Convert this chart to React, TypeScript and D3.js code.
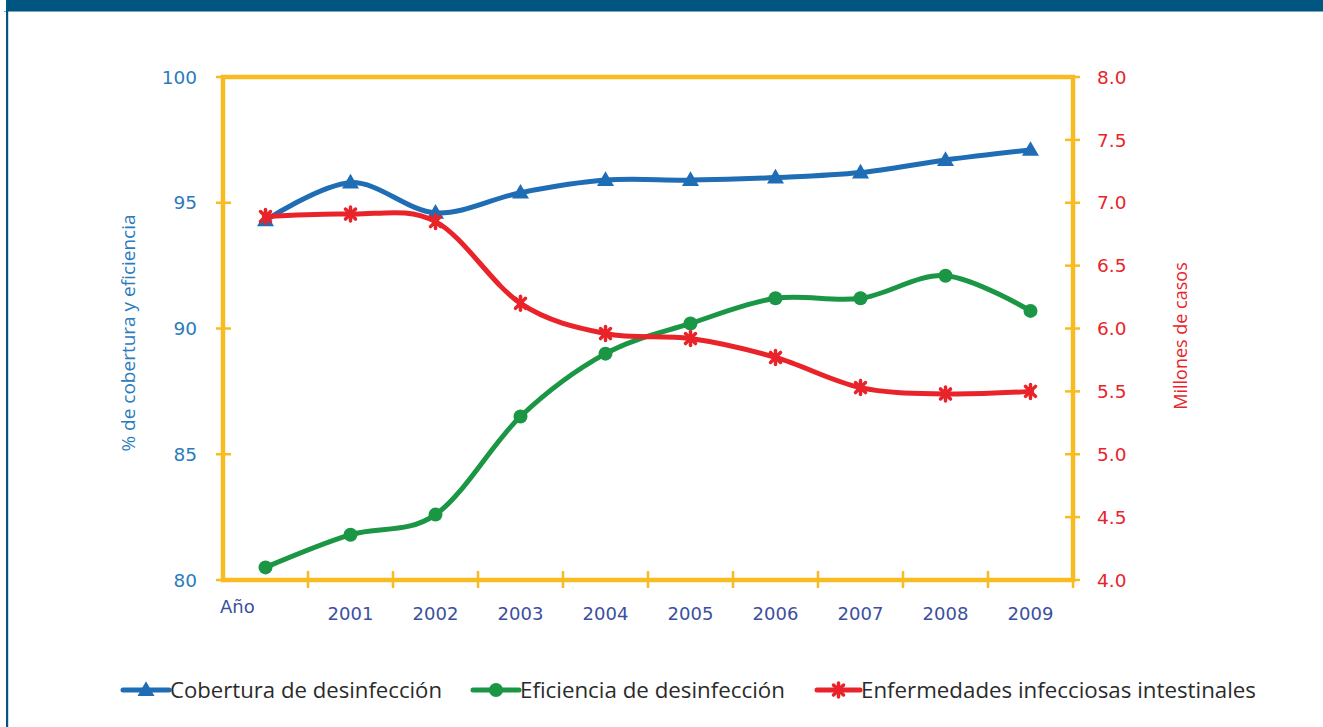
import React from 'react';
import * as d3 from 'd3';

const years = ['2000', '2001', '2002', '2003', '2004', '2005', '2006', '2007', '2008', '2009'];
const cobertura = [94.3, 95.8, 94.6, 95.4, 95.9, 95.9, 96.0, 96.2, 96.7, 97.1];
const eficiencia = [80.5, 81.8, 82.6, 86.5, 89.0, 90.2, 91.2, 91.2, 92.1, 90.7];
const enfermedades = [6.89, 6.91, 6.85, 6.2, 5.96, 5.92, 5.77, 5.53, 5.48, 5.5];
const leftTicks = [80, 85, 90, 95, 100];
const rightTicks = [4.0, 4.5, 5.0, 5.5, 6.0, 6.5, 7.0, 7.5, 8.0];
const seriesNames = ['Cobertura de desinfección', 'Eficiencia de desinfección', 'Enfermedades infecciosas intestinales'];

const W = 1323, H = 727;
const L = 223, R = 1073, T = 77, B = 580;
const BLUE = '#1f6db5', GREEN = '#1a9645', RED = '#e8242a', YEL = '#f8bb22', HEADER = '#005581';
const TICKBLUE = '#2b7bbd', XBLUE = '#3b4fa0';

function Marker({ kind, x, y, color, s = 1 }: { kind: string; x: number; y: number; color: string; s?: number }) {
  if (kind === 'tri') {
    const p = d3.symbol(d3.symbolTriangle, 125 * s * s)();
    return <path d={p || ''} transform={`translate(${x},${y + 1})`} fill={color} />;
  }
  if (kind === 'circ') return <circle cx={x} cy={y} r={7 * s} fill={color} />;
  return (
    <g transform={`translate(${x},${y}) scale(${s})`} stroke={color} strokeWidth={3.5} strokeLinecap="round">
      <line x1={-5} y1={-5} x2={5} y2={5} />
      <line x1={-5} y1={5} x2={5} y2={-5} />
      <line x1={0} y1={-7} x2={0} y2={7} />
      <ellipse cx={0} cy={0} rx={3.5} ry={5} fill={color} stroke="none" />
    </g>
  );
}

export default function App() {
  const x = d3.scaleBand<string>().domain(years).range([L, R]).padding(0);
  const cx = (d: string) => (x(d) as number) + x.bandwidth() / 2;
  const yL = d3.scaleLinear().domain([80, 100]).range([B, T]);
  const yR = d3.scaleLinear().domain([4, 8]).range([B, T]);

  const lineL = d3.line<number>().x((_, i) => cx(years[i])).y((v) => yL(v)).curve(d3.curveCatmullRom.alpha(0));
  const lineR = d3.line<number>().x((_, i) => cx(years[i])).y((v) => yR(v)).curve(d3.curveCatmullRom.alpha(0));

  const series = [
    { name: seriesNames[0], vals: cobertura, line: lineL, y: yL, color: BLUE, kind: 'tri' },
    { name: seriesNames[1], vals: eficiencia, line: lineL, y: yL, color: GREEN, kind: 'circ' },
    { name: seriesNames[2], vals: enfermedades, line: lineR, y: yR, color: RED, kind: 'star' },
  ];

  const legendX = [123, 473, 817];
  const legendW = [46, 46, 43];
  const legendTextW = [272, 265, 395];

  return (
    <svg width={W} height={H} style={{ position: 'absolute', left: 0, top: 0, background: '#fff' }}>
      <rect x={0} y={0} width={W} height={H} fill="#fff" />
      {/* frame */}
      <rect x={6} y={0} width={W - 6} height={11} fill={HEADER} />
      <line x1={4} x2={W} y1={11.5} y2={11.5} stroke="#7fa3bd" strokeWidth={1} />
      <rect x={6} y={11} width={2.2} height={H - 11} fill={HEADER} />

      {/* plot frame */}
      <rect x={L} y={T} width={R - L} height={B - T} fill="none" stroke={YEL} strokeWidth={4.5} />

      {/* left ticks */}
      {leftTicks.map((t) => (
        <g key={'l' + t}>
          <line x1={L - 7} x2={L + 8} y1={yL(t)} y2={yL(t)} stroke={YEL} strokeWidth={2.5} />
          <text x={197} y={yL(t)} dy="0.36em" textAnchor="end" fontFamily="DejaVu Sans" fontSize={18.5} fill={TICKBLUE}>
            {t}
          </text>
        </g>
      ))}
      {/* right ticks */}
      {rightTicks.map((t) => (
        <g key={'r' + t}>
          <line x1={R - 8} x2={R + 7} y1={yR(t)} y2={yR(t)} stroke={YEL} strokeWidth={2.5} />
          <text x={1097} y={yR(t)} dy="0.36em" textAnchor="start" fontFamily="DejaVu Sans" fontSize={18.5} fill={RED}>
            {t.toFixed(1)}
          </text>
        </g>
      ))}
      {/* x ticks at band boundaries */}
      {years.slice(1).map((d) => (
        <line key={'xt' + d} x1={x(d) as number} x2={x(d) as number} y1={B - 9} y2={B + 8} stroke={YEL} strokeWidth={2.5} />
      ))}
      <line x1={R} x2={R} y1={B - 9} y2={B + 8} stroke={YEL} strokeWidth={2.5} />
      {years.slice(1).map((d) => (
        <text key={'xl' + d} x={cx(d)} y={620} textAnchor="middle" fontFamily="DejaVu Sans" fontSize={18} fill={XBLUE}>
          {d}
        </text>
      ))}
      <text x={220} y={613} fontFamily="DejaVu Sans" fontSize={18} fill={XBLUE}>Año</text>

      {/* axis titles */}
      <text transform={`translate(135,${333}) rotate(-90)`} textAnchor="middle" fontFamily="Open Sans" fontSize={19} fill={TICKBLUE}>
        % de cobertura y eficiencia
      </text>
      <text transform={`translate(1187,${336}) rotate(-90)`} textAnchor="middle" fontFamily="Open Sans" fontSize={18} fill={RED}>
        Millones de casos
      </text>

      {/* series */}
      {series.map((s) => (
        <g key={s.name}>
          <path d={s.line(s.vals) || ''} fill="none" stroke={s.color} strokeWidth={5} strokeLinejoin="round" />
          {s.vals.map((v, i) => (
            <Marker key={i} kind={s.kind} x={cx(years[i])} y={s.y(v)} color={s.color} />
          ))}
        </g>
      ))}

      {/* legend */}
      {series.map((s, i) => (
        <g key={'lg' + i}>
          <line x1={legendX[i]} x2={legendX[i] + legendW[i]} y1={690} y2={690} stroke={s.color} strokeWidth={5} strokeLinecap="round" />
          <Marker kind={s.kind} x={legendX[i] + legendW[i] / 2} y={690} color={s.color} />
          <text
            x={legendX[i] + legendW[i] + 1}
            y={698}
            fontFamily="Open Sans"
            fontSize={22}
            fill="#2b2b2b"
            textLength={legendTextW[i]}
            lengthAdjust="spacingAndGlyphs"
          >
            {s.name}
          </text>
        </g>
      ))}
    </svg>
  );
}
